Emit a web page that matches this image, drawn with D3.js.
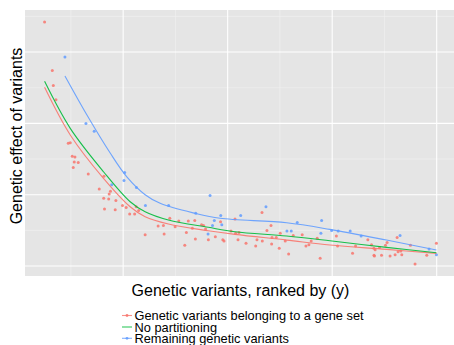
<!DOCTYPE html>
<html>
<head>
<meta charset="utf-8">
<script src="https://cdn.jsdelivr.net/npm/d3@7"></script>
<style>
  html, body { margin: 0; padding: 0; background: #ffffff; }
  svg { display: block; font-family: "Liberation Sans", Arial, sans-serif; }
</style>
</head>
<body>
<svg id="chart" width="454" height="345"></svg>
<script>
// ---- Data (rank on x, genetic effect on y) ----
const geneSetX = [6.21, 8.05, 8.29, 8.93, 11.87, 12.35, 12.83, 13.47, 13.30, 14.26, 13.07, 16.65, 20.40, 19.28, 21.97, 21.66, 20.35, 21.54, 23.26, 20.54,
  23.10, 24.84, 25.72, 26.56, 27.75, 28.11, 28.71, 30.26, 33.37, 34.63, 34.80, 36.16, 37.43, 38.31, 39.74, 40.13, 40.58, 41.56, 42.13, 42.28,
  43.76, 44.23, 44.71, 45.38, 47.05, 48.30, 48.84, 49.13, 50.80, 51.76, 51.90, 52.71, 52.48, 54.39, 56.70, 57.01, 58.21, 58.28, 59.40, 60.36,
  60.52, 60.60, 61.62, 62.34, 62.58, 63.77, 64.58, 65.68, 67.83, 68.72, 69.43, 69.98, 71.42, 72.13, 76.00, 76.29, 79.87, 80.59, 83.53, 84.41,
  84.96, 85.27, 85.00, 85.10, 86.32, 86.80, 87.75, 88.14, 88.85, 90.05, 90.53, 90.76, 91.41, 91.65, 93.72, 94.82, 97.62, 99.93];
const geneSetY = [0.342, 0.274, 0.253, 0.233, 0.172, 0.173, 0.154, 0.153, 0.146, 0.145, 0.138, 0.129, 0.126, 0.108, 0.105, 0.101, 0.095, 0.094, 0.092, 0.080,
  0.079, 0.085, 0.082, 0.073, 0.073, 0.083, 0.078, 0.044, 0.056, 0.057, 0.045, 0.067, 0.055, 0.063, 0.029, 0.047, 0.063, 0.053, 0.064, 0.038,
  0.058, 0.057, 0.052, 0.037, 0.041, 0.062, 0.037, 0.035, 0.049, 0.066, 0.046, 0.047, 0.037, 0.032, 0.028, 0.037, 0.075, 0.035, 0.050, 0.057,
  0.031, 0.040, 0.040, 0.025, 0.046, 0.035, 0.017, 0.043, 0.044, 0.028, 0.030, 0.035, 0.039, 0.011, 0.042, 0.028, 0.018, 0.028, 0.037, 0.030,
  0.025, 0.023, 0.015, 0.014, 0.026, 0.015, 0.029, 0.033, 0.014, 0.016, 0.040, 0.020, 0.021, 0.016, 0.029, 0.003, 0.015, 0.032];

const remainingX = [11.08, 16.10, 18.08, 22.26, 25.37, 25.20, 28.18, 30.33, 35.88, 42.37, 45.79, 45.31, 46.38, 46.81, 48.34, 48.60, 53.12, 59.16, 64.18, 65.21,
  66.64, 72.30, 72.47, 74.86, 76.43, 79.30, 81.92, 91.24, 98.17, 99.93];
const remainingY = [0.293, 0.200, 0.189, 0.114, 0.131, 0.120, 0.110, 0.085, 0.085, 0.074, 0.099, 0.045, 0.057, 0.064, 0.071, 0.058, 0.071, 0.083, 0.049, 0.049,
  0.061, 0.046, 0.064, 0.050, 0.049, 0.049, 0.042, 0.043, 0.024, 0.016];

// smoothed (loess) fits
const fitGeneSetX = [6.21, 12.35, 20.30, 26.68, 30.26, 35.83, 45.38, 51.76, 64.11, 74.45, 87.99, 99.93];
const fitGeneSetY = [0.2505, 0.1837, 0.1229, 0.0831, 0.0691, 0.0589, 0.0495, 0.0444, 0.0364, 0.0294, 0.0234, 0.0178];
const fitAllX = [6.21, 12.35, 20.30, 26.68, 30.26, 35.83, 45.38, 51.76, 64.11, 74.45, 87.99, 99.93];
const fitAllY = [0.2589, 0.1930, 0.1322, 0.0901, 0.0761, 0.0645, 0.0543, 0.0481, 0.0421, 0.0355, 0.0262, 0.0186];
const fitRemainingX = [11.08, 16.34, 21.90, 25.88, 30.26, 33.85, 42.20, 48.17, 64.11, 74.45, 87.99, 99.93];
const fitRemainingY = [0.2664, 0.2117, 0.1584, 0.1250, 0.1000, 0.0879, 0.0739, 0.0669, 0.0607, 0.0514, 0.0364, 0.0224];

const xMajor = [25, 50, 75, 100];
const xMinor = [12.5, 37.5, 62.5, 87.5];
const yMajor = [0, 0.1, 0.2, 0.3];
const yMinor = [0.05, 0.15, 0.25, 0.35];

const legendLabels = ["Genetic variants belonging to a gene set", "No partitioning", "Remaining genetic variants"];
const seriesColors = ["#F8766D", "#00BA38", "#619CFF"];

const xTitle = "Genetic variants, ranked by (y)";
const yTitle = "Genetic effect of variants";

// ---- Layout ----
const svg = d3.select("#chart");
const panel = { left: 25, top: 10, right: 456, bottom: 276 };

const allX = geneSetX.concat(remainingX);
const allY = geneSetY.concat(remainingY);
function expand(ext, f) { const d = (ext[1] - ext[0]) * f; return [ext[0] - d, ext[1] + d]; }

const x = d3.scaleLinear().domain(expand(d3.extent(allX), 0.05)).range([panel.left, panel.right]);
const y = d3.scaleLinear().domain(expand(d3.extent(allY), 0.05)).range([panel.bottom, panel.top]);

// panel background
svg.append("rect")
  .attr("x", panel.left).attr("y", panel.top)
  .attr("width", panel.right - panel.left).attr("height", panel.bottom - panel.top)
  .attr("fill", "#E5E5E5");

const grid = svg.append("g");
// minor grid
grid.selectAll(".vmin").data(xMinor).enter().append("line")
  .attr("x1", d => x(d)).attr("x2", d => x(d)).attr("y1", panel.top).attr("y2", panel.bottom)
  .attr("stroke", "#F2F2F2").attr("stroke-width", 0.6);
grid.selectAll(".hmin").data(yMinor).enter().append("line")
  .attr("y1", d => y(d)).attr("y2", d => y(d)).attr("x1", panel.left).attr("x2", panel.right)
  .attr("stroke", "#F2F2F2").attr("stroke-width", 0.6);
// major grid
grid.selectAll(".vmaj").data(xMajor).enter().append("line")
  .attr("x1", d => x(d)).attr("x2", d => x(d)).attr("y1", panel.top).attr("y2", panel.bottom)
  .attr("stroke", "#FFFFFF").attr("stroke-width", 1.1);
grid.selectAll(".hmaj").data(yMajor).enter().append("line")
  .attr("y1", d => y(d)).attr("y2", d => y(d)).attr("x1", panel.left).attr("x2", panel.right)
  .attr("stroke", "#FFFFFF").attr("stroke-width", 1.1);

// points
const pts = svg.append("g");
function drawPoints(xs, ys, color) {
  pts.selectAll(null).data(xs.map((d, i) => [d, ys[i]])).enter().append("circle")
    .attr("cx", d => x(d[0])).attr("cy", d => y(d[1])).attr("r", 1.5)
    .attr("fill", color).attr("fill-opacity", 0.85);
}
drawPoints(geneSetX, geneSetY, seriesColors[0]);
drawPoints(remainingX, remainingY, seriesColors[2]);

// smooth lines
const line = d3.line().x(d => x(d[0])).y(d => y(d[1])).curve(d3.curveCatmullRom.alpha(0.5));
const fits = [[fitGeneSetX, fitGeneSetY], [fitAllX, fitAllY], [fitRemainingX, fitRemainingY]];
fits.forEach((f, i) => {
  svg.append("path")
    .datum(f[0].map((d, j) => [d, f[1][j]]))
    .attr("d", line)
    .attr("fill", "none")
    .attr("stroke", seriesColors[i])
    .attr("stroke-width", 1.1)
    .attr("stroke-opacity", 0.9);
});

// axis titles
svg.append("text")
  .attr("x", (panel.left + panel.right) / 2).attr("y", 296)
  .attr("text-anchor", "middle").attr("font-size", 16).attr("fill", "#000")
  .text(xTitle);
svg.append("text")
  .attr("transform", "translate(22," + 136 + ") rotate(-90)")
  .attr("text-anchor", "middle").attr("font-size", 16).attr("fill", "#000")
  .text(yTitle);

// legend
const legend = svg.append("g");
const rowY = [315.5, 327, 338.3];
legendLabels.forEach((lab, i) => {
  const g = legend.append("g");
  g.append("line").attr("x1", 122).attr("x2", 132).attr("y1", rowY[i]).attr("y2", rowY[i])
    .attr("stroke", seriesColors[i]).attr("stroke-width", 1.1).attr("stroke-opacity", 0.8);
  if (i !== 1) {
    g.append("circle").attr("cx", 127).attr("cy", rowY[i]).attr("r", 1.4)
      .attr("fill", seriesColors[i]).attr("fill-opacity", 0.85);
  }
  g.append("text").attr("x", 134.5).attr("y", rowY[i] + 4.5)
    .attr("font-size", 12.8).attr("fill", "#000").text(lab);
});
</script>
</body>
</html>
